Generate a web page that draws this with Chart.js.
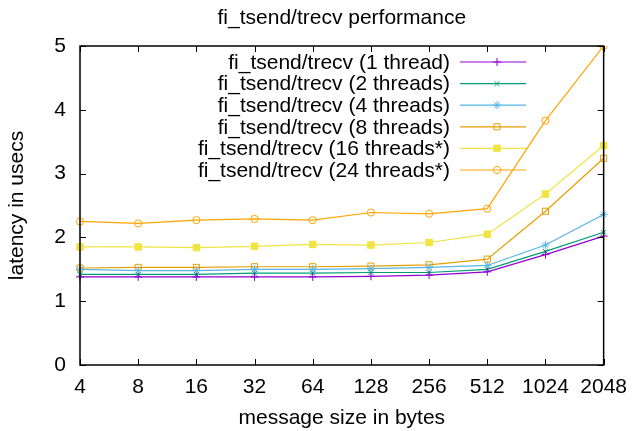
<!DOCTYPE html>
<html>
<head>
<meta charset="utf-8">
<script src="https://cdn.jsdelivr.net/npm/chart.js@4/dist/chart.umd.min.js"></script>
<style>
  html, body { margin: 0; padding: 0; background: #fff; }
  #wrap { width: 637px; height: 431px; }
</style>
</head>
<body>
<div id="wrap"><canvas id="perfChart" width="637" height="431"></canvas></div>
<script>
// message sizes (x categories)
const sizes = ['4', '8', '16', '32', '64', '128', '256', '512', '1024', '2048'];

// latency in usecs
const t1  = [1.38, 1.38, 1.38, 1.38, 1.38, 1.39, 1.41, 1.46, 1.73, 2.02];
const t2  = [1.42, 1.42, 1.42, 1.44, 1.44, 1.45, 1.45, 1.50, 1.78, 2.08];
const t4  = [1.50, 1.48, 1.48, 1.50, 1.50, 1.51, 1.53, 1.56, 1.88, 2.36];
const t8  = [1.52, 1.53, 1.53, 1.54, 1.54, 1.55, 1.57, 1.66, 2.41, 3.24];
const t16 = [1.85, 1.85, 1.84, 1.86, 1.89, 1.88, 1.92, 2.05, 2.68, 3.44];
const t24 = [2.25, 2.22, 2.27, 2.29, 2.27, 2.39, 2.37, 2.45, 3.83, 5.00];

const yTicks = [0, 1, 2, 3, 4, 5];

const chartTitle = 'fi_tsend/trecv performance';
const FONT = 'Liberation Sans, Arial, sans-serif';
const FSIZE = 21;

function series(label, data, color, style, radius, filled) {
    return {
        label: label,
        data: data,
        borderColor: color,
        backgroundColor: filled ? color : 'rgba(0,0,0,0)',
        pointBorderColor: color,
        pointBackgroundColor: filled ? color : 'rgba(0,0,0,0)',
        pointStyle: style,
        pointRadius: radius,
        pointHoverRadius: radius,
        pointBorderWidth: 1,
        borderWidth: 1.2,
        tension: 0,
        fill: false
    };
}

// gnuplot look: title centred on the plot, inward ticks on all sides, black frame
const framePlugin = {
    id: 'frame',
    afterDraw(chart) {
        const { ctx, chartArea: a, scales } = chart;
        const len = 6;
        ctx.save();
        ctx.fillStyle = '#000';
        ctx.font = FSIZE + 'px ' + FONT;
        ctx.textAlign = 'center';
        ctx.textBaseline = 'alphabetic';
        ctx.fillText(chartTitle, (a.left + a.right) / 2, 24);

        ctx.strokeStyle = '#000';
        ctx.lineWidth = 1;
        ctx.beginPath();
        scales.y.ticks.forEach(t => {
            const py = Math.round(scales.y.getPixelForValue(t.value)) + 0.5;
            ctx.moveTo(a.left, py); ctx.lineTo(a.left + len, py);
            ctx.moveTo(a.right, py); ctx.lineTo(a.right - len, py);
        });
        sizes.forEach((s, i) => {
            const px = Math.round(scales.x.getPixelForValue(i)) + 0.5;
            ctx.moveTo(px, a.bottom); ctx.lineTo(px, a.bottom - len);
            ctx.moveTo(px, a.top); ctx.lineTo(px, a.top + len);
        });
        ctx.stroke();
        ctx.lineWidth = 1.5;
        ctx.strokeRect(a.left, a.top, a.right - a.left, a.bottom - a.top);
        ctx.restore();
    }
};

// key in the upper part, text right aligned, sample line on the right
const keyPlugin = {
    id: 'key',
    afterDatasetsDraw(chart) {
        const ctx = chart.ctx;
        const textRight = 450, lineL = 460, lineR = 526, markX = 497;
        const top = 62, step = 21.6;
        ctx.save();
        ctx.font = FSIZE + 'px ' + FONT;
        ctx.textAlign = 'right';
        ctx.textBaseline = 'middle';
        chart.data.datasets.forEach((ds, i) => {
            const y = top + i * step;
            ctx.fillStyle = '#000';
            ctx.fillText(ds.label, textRight, y + 1);
            ctx.strokeStyle = ds.borderColor;
            ctx.lineWidth = ds.borderWidth;
            ctx.beginPath();
            ctx.moveTo(lineL, y); ctx.lineTo(lineR, y);
            ctx.stroke();
            ctx.fillStyle = ds.pointBackgroundColor;
            ctx.lineWidth = ds.pointBorderWidth;
            Chart.helpers.drawPoint(ctx, { pointStyle: ds.pointStyle, radius: ds.pointRadius, borderWidth: 1 }, markX, y);
        });
        ctx.restore();
    }
};

new Chart(document.getElementById('perfChart'), {
    type: 'line',
    data: {
        labels: sizes,
        datasets: [
            series('fi_tsend/trecv (1 thread)', t1, '#9400d3', 'cross', 4, false),
            series('fi_tsend/trecv (2 threads)', t2, '#009e73', 'crossRot', 3.5, false),
            series('fi_tsend/trecv (4 threads)', t4, '#56b4e9', 'star', 4, false),
            series('fi_tsend/trecv (8 threads)', t8, '#e69f00', 'rect', 4.3, false),
            series('fi_tsend/trecv (16 threads*)', t16, '#f0e442', 'rect', 4.6, true),
            series('fi_tsend/trecv (24 threads*)', t24, '#ffa500', 'circle', 3.6, false)
        ]
    },
    options: {
        responsive: false,
        animation: false,
        events: [],
        layout: { padding: { left: 0, right: 28, top: 46, bottom: 0 } },
        plugins: {
            legend: { display: false },
            tooltip: { enabled: false },
            title: { display: false }
        },
        scales: {
            x: {
                type: 'category',
                offset: false,
                grid: { display: false, drawTicks: false },
                border: { display: false },
                ticks: { color: '#000', font: { family: FONT, size: FSIZE }, padding: 10, maxRotation: 0, autoSkip: false },
                title: {
                    display: true,
                    text: 'message size in bytes',
                    color: '#000',
                    font: { family: FONT, size: FSIZE, lineHeight: 1.2 },
                    padding: { top: 0, bottom: 0 }
                },
                afterFit(scale) { scale.height = 66; }
            },
            y: {
                min: yTicks[0],
                max: yTicks[yTicks.length - 1],
                grid: { display: false, drawTicks: false },
                border: { display: false },
                afterBuildTicks(scale) { scale.ticks = yTicks.map(v => ({ value: v })); },
                ticks: { color: '#000', font: { family: FONT, size: FSIZE }, padding: 14 },
                title: {
                    display: true,
                    text: 'latency in usecs',
                    color: '#000',
                    font: { family: FONT, size: FSIZE, lineHeight: 1.2 },
                    padding: { top: 5, bottom: 0 }
                },
                afterFit(scale) { scale.width = 80; }
            }
        }
    },
    plugins: [framePlugin, keyPlugin]
});
</script>
</body>
</html>
